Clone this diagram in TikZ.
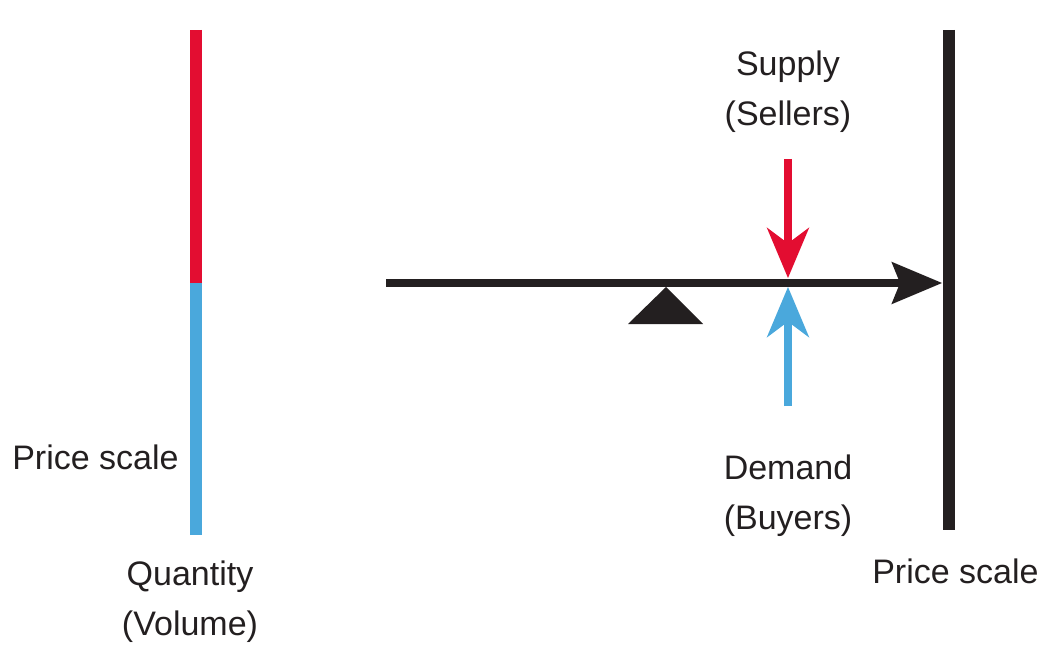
\documentclass[tikz,border=0pt]{standalone}
\usepackage{fontspec}
\setmainfont{Liberation Sans}
\usepackage{tikz}
\usetikzlibrary{positioning,arrows.meta,calc}
\definecolor{supplyred}{HTML}{E30D31}
\definecolor{demandblue}{HTML}{4AA8DC}
\definecolor{inkdark}{HTML}{231F20}

\begin{document}
\begin{tikzpicture}[x=0.75pt,y=-0.75pt,
  lbl/.style={inner sep=0pt,align=center,text=inkdark,font=\fontsize{25.5}{37}\selectfont},
  bar/.style={line width=9pt},
  force/.style={line width=6.5pt,-{Stealth[length=38pt,width=32pt,inset=12pt,line width=0pt]}}]
\useasboundingbox (0,0) rectangle (1060,652);
% scale on the left
\coordinate (ltop) at (196,30);
\coordinate (lmid) at (196,283);
\coordinate (lbot) at (196,535);
\draw[bar,supplyred] (ltop) -- (lmid);
\draw[bar,demandblue] (lmid) -- (lbot);
% beam and wall
\coordinate (beam) at (386,283);
\coordinate (tip) at (942,283);
\coordinate (rtop) at (949,30);
\coordinate (rbot) at (949,530);
\draw[bar,inkdark] (rtop) -- (rbot);
\draw[line width=6pt,inkdark,-{Stealth[length=38pt,width=32pt,inset=6.5pt,line width=0pt]}] (beam) -- (tip);
\coordinate (pivot) at (666,287);
\fill[inkdark] (pivot) -- (703,324) -- (628,324) -- cycle;
% forces
\coordinate (sfrom) at (788,159);
\coordinate (sto) at (788,278);
\coordinate (dfrom) at (788,406);
\coordinate (dto) at (788,287);
\draw[force,supplyred] (sfrom) -- (sto);
\draw[force,demandblue] (dfrom) -- (dto);
% labels
\node[lbl,anchor=north] (supply) at (788,51) {Supply\\(Sellers)};
\node[lbl,anchor=north] (demand) at (788,455) {Demand\\(Buyers)};
\node[lbl,anchor=north west] (pleft) at (12,445) {Price scale};
\node[lbl,anchor=north west] (pright) at (872,559) {Price scale};
\node[lbl,anchor=north] (qty) at (190,561) {Quantity\\(Volume)};
\end{tikzpicture}
\end{document}
